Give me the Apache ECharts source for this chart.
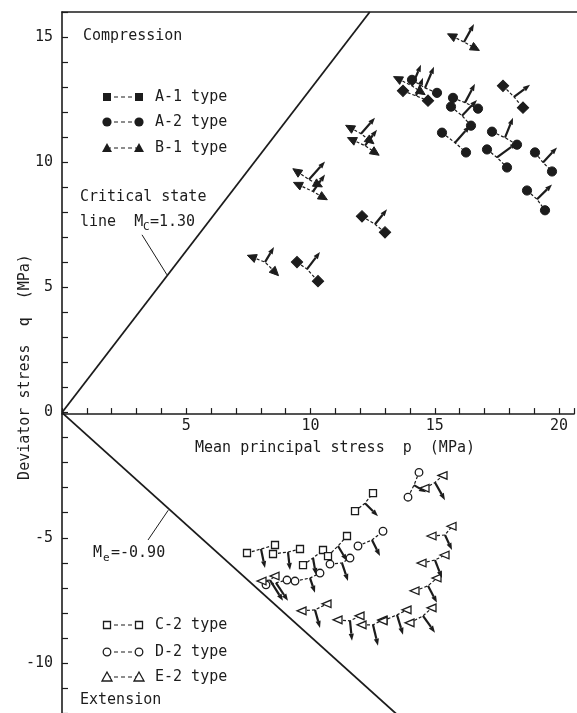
<!DOCTYPE html>
<html><head><meta charset="utf-8">
<script src="https://cdn.jsdelivr.net/npm/echarts@6/dist/echarts.min.js"></script>
<style>html,body{margin:0;padding:0;background:#fff;}#c{width:577px;height:713px;}</style>
</head><body><div id="c"></div>
<script>
// ---- axis ticks / labels ----
const xLabelValues = [5, 10, 15, 20];
const yLabelValues = [-10, -5, 0, 5, 10, 15];

// ---- state lines (p, q) ----
const criticalStateLine = [[0, 0], [12.31, 16]];   // Mc = 1.30
const extensionLine = [[0, 0], [13.4, -12.06]];     // Me = -0.90
const mcLeader = [[3.2, 7.1], [4.2, 5.5]];
const meLeader = [[3.44, -5.09], [4.25, -3.9]];

// ---- test glyphs: [Lp, Lq, Rp, Rq, Sp, Sq, Ep, Eq]
// L/R = the two markers, S = start of strain-increment arrow, E = arrow tip
const a1Type = [
  [13.64, 12.85, 14.64, 12.46, 14.16, 12.65, 14.44, 13.37],
  [17.64, 13.05, 18.44, 12.18, 18.08, 12.61, 18.72, 13.09],
  [12.00, 7.84, 12.92, 7.20, 12.52, 7.52, 13.00, 8.12],
  [9.40, 6.01, 10.24, 5.25, 9.80, 5.73, 10.32, 6.41]
];
const a2Type = [
  [14.00, 13.29, 15.00, 12.77, 14.52, 12.97, 14.88, 13.81],
  [15.64, 12.57, 16.64, 12.14, 16.12, 12.38, 16.52, 13.13],
  [15.56, 12.22, 16.36, 11.46, 16.00, 11.86, 16.60, 12.49],
  [15.20, 11.18, 16.16, 10.39, 15.72, 10.78, 16.32, 11.46],
  [17.20, 11.22, 18.20, 10.70, 17.72, 10.98, 18.04, 11.78],
  [17.00, 10.51, 17.80, 9.79, 17.40, 10.19, 18.20, 10.78],
  [18.92, 10.39, 19.60, 9.63, 19.24, 9.99, 19.80, 10.59],
  [18.60, 8.87, 19.32, 8.08, 19.00, 8.52, 19.60, 9.11]
];
const b1Type = [
  [15.60, 15.04, 16.52, 14.56, 16.08, 14.80, 16.48, 15.52],
  [13.44, 13.33, 14.36, 12.81, 14.00, 13.05, 14.36, 13.89],
  [11.52, 11.38, 12.32, 10.86, 11.96, 11.14, 12.52, 11.78],
  [11.60, 10.90, 12.52, 10.39, 12.12, 10.66, 12.60, 11.30],
  [9.40, 9.63, 10.24, 9.11, 9.88, 9.31, 10.52, 10.03],
  [9.44, 9.11, 10.44, 8.60, 10.04, 8.83, 10.52, 9.51],
  [7.60, 6.21, 8.52, 5.61, 8.12, 6.01, 8.48, 6.61]
];
const c2Type = [
  [7.40, -5.61, 8.52, -5.29, 7.96, -5.45, 8.12, -6.21],
  [8.44, -5.65, 9.52, -5.45, 9.04, -5.57, 9.12, -6.29],
  [9.64, -6.09, 10.44, -5.49, 10.04, -5.81, 10.16, -6.49],
  [10.64, -5.73, 11.40, -4.93, 11.04, -5.33, 11.40, -5.93],
  [11.72, -3.94, 12.44, -3.22, 12.12, -3.62, 12.64, -4.14]
];
const d2Type = [
  [8.16, -6.88, 9.00, -6.69, 8.56, -6.80, 9.04, -7.52],
  [9.32, -6.73, 10.32, -6.41, 9.92, -6.61, 10.12, -7.20],
  [10.72, -6.05, 11.52, -5.81, 11.20, -6.01, 11.44, -6.73],
  [11.84, -5.33, 12.84, -4.74, 12.40, -5.09, 12.72, -5.73],
  [13.84, -3.38, 14.28, -2.39, 14.08, -2.90, 14.56, -3.18]
];
const e2Type = [
  [8.00, -6.73, 8.52, -6.53, 8.32, -6.69, 8.84, -7.52],
  [9.60, -7.92, 10.60, -7.64, 10.12, -7.88, 10.32, -8.60],
  [11.04, -8.28, 11.92, -8.12, 11.52, -8.32, 11.60, -9.11],
  [12.00, -8.48, 12.84, -8.28, 12.44, -8.48, 12.64, -9.31],
  [12.84, -8.32, 13.80, -7.88, 13.40, -8.08, 13.64, -8.87],
  [13.92, -8.40, 14.80, -7.80, 14.44, -8.12, 14.92, -8.79],
  [14.12, -7.12, 15.00, -6.61, 14.64, -6.92, 15.00, -7.60],
  [14.40, -6.01, 15.32, -5.69, 14.92, -5.89, 15.20, -6.61],
  [14.80, -4.93, 15.60, -4.54, 15.32, -4.89, 15.60, -5.49],
  [14.52, -3.02, 15.24, -2.51, 14.92, -2.79, 15.32, -3.50]
];

// ---- styles ----
const INK = '#1c1c1c';
const FONT = '"DejaVu Sans Mono", "Liberation Mono", monospace';

function markerShape(P, S, shape, filled, fixedDir) {
  const style = filled ? { fill: INK, stroke: INK, lineWidth: 1 } : { fill: '#fff', stroke: INK, lineWidth: 1.3 };
  if (shape === 'square') {
    const s = filled ? 8 : 7;
    return { type: 'rect', x: P[0], y: P[1], rotation: filled ? Math.PI / 4 : 0,
      shape: { x: -s / 2, y: -s / 2, width: s, height: s }, style };
  }
  if (shape === 'circle') {
    return { type: 'circle', shape: { cx: P[0], cy: P[1], r: filled ? 4.6 : 3.8 }, style };
  }
  let ux, uy;
  if (fixedDir) { ux = fixedDir[0]; uy = fixedDir[1]; }
  else {
    const dx = P[0] - S[0], dy = P[1] - S[1];
    const l = Math.hypot(dx, dy) || 1; ux = dx / l; uy = dy / l;
  }
  const tip = [P[0] + ux * 5, P[1] + uy * 5];
  const b = [P[0] - ux * 4, P[1] - uy * 4];
  const hw = filled ? 4.2 : 3.8;
  return { type: 'polygon', shape: { points: [tip, [b[0] - uy * hw, b[1] + ux * hw], [b[0] + uy * hw, b[1] - ux * hw]] }, style };
}

function glyphSeries(name, data, shape, filled, fixedDir) {
  return {
    type: 'custom', name, data, coordinateSystem: 'cartesian2d', xAxisIndex: 0, yAxisIndex: 0,
    silent: true, z: 5,
    encode: { x: [0, 2, 4, 6], y: [1, 3, 5, 7] },
    renderItem(params, api) {
      const L = api.coord([api.value(0), api.value(1)]);
      const R = api.coord([api.value(2), api.value(3)]);
      const S = api.coord([api.value(4), api.value(5)]);
      const E = api.coord([api.value(6), api.value(7)]);
      const ch = [];
      ch.push({ type: 'polyline', shape: { points: [L, S, R] },
        style: { stroke: INK, lineWidth: 1.2, lineDash: [3, 2], fill: null } });
      const dx = E[0] - S[0], dy = E[1] - S[1];
      const len = Math.hypot(dx, dy) || 1, ux = dx / len, uy = dy / len;
      const hl = 7, hw = 2.6;
      const B = [E[0] - ux * hl, E[1] - uy * hl];
      ch.push({ type: 'line', shape: { x1: S[0], y1: S[1], x2: B[0], y2: B[1] }, style: { stroke: INK, lineWidth: 2.2 } });
      ch.push({ type: 'polygon', shape: { points: [E, [B[0] - uy * hw, B[1] + ux * hw], [B[0] + uy * hw, B[1] - ux * hw]] }, style: { fill: INK } });
      ch.push(markerShape(L, S, shape, filled, fixedDir));
      ch.push(markerShape(R, S, shape, filled, fixedDir));
      return { type: 'group', children: ch };
    }
  };
}

function txt(x, y, text, size, extra) {
  return Object.assign({ type: 'text', x, y, silent: true,
    style: { text, fill: INK, font: (size || 15) + 'px ' + FONT, textAlign: 'left', textVerticalAlign: 'middle' } }, extra || {});
}

function legendItem(y, shape, filled) {
  const x1 = 107, x2 = 139;
  const items = [{ type: 'line', shape: { x1, y1: y, x2, y2: y }, style: { stroke: INK, lineWidth: 1.2, lineDash: [4, 3] } }];
  [x1, x2].forEach(x => {
    if (shape === 'square') {
      const s = filled ? 8 : 7;
      items.push({ type: 'rect', shape: { x: x - s / 2, y: y - s / 2, width: s, height: s },
        style: filled ? { fill: INK } : { fill: '#fff', stroke: INK, lineWidth: 1.3 } });
    } else if (shape === 'circle') {
      items.push({ type: 'circle', shape: { cx: x, cy: y, r: filled ? 4.6 : 3.8 },
        style: filled ? { fill: INK } : { fill: '#fff', stroke: INK, lineWidth: 1.3 } });
    } else {
      items.push({ type: 'polygon', shape: { points: [[x, y - 5], [x - 5, y + 4], [x + 5, y + 4]] },
        style: filled ? { fill: INK } : { fill: '#fff', stroke: INK, lineWidth: 1.3 } });
    }
  });
  return items;
}

const chart = echarts.init(document.getElementById('c'), null, { renderer: 'canvas' });

const lineStyleBase = { color: INK, width: 1.8 };
const Y_MIN = -12, Y_MAX = 16, PX_PER_Q = 25.13;
const GRID_TOP = 12;

const option = {
  animation: false,
  backgroundColor: '#fff',
  grid: [
    // main data grid
    { left: 62, top: GRID_TOP, width: 515, height: (Y_MAX - Y_MIN) * PX_PER_Q, containLabel: false },
    // upper half grid: its bottom edge is q = 0, carries the p axis
    { left: 62, top: GRID_TOP, width: 515, height: Y_MAX * PX_PER_Q, containLabel: false }
  ],
  xAxis: [{
    gridIndex: 0, type: 'value', position: 'top', min: 0, max: 20.6,
    axisLine: { onZero: false, lineStyle: { color: INK, width: 1.6 } },
    axisTick: { show: false }, axisLabel: { show: false }, splitLine: { show: false }
  }, {
    gridIndex: 1, type: 'value', position: 'bottom', min: 0, max: 20.6, interval: 1,
    axisLine: { onZero: false, lineStyle: { color: INK, width: 1.6 } },
    axisTick: { inside: true, length: 6, lineStyle: { color: INK, width: 1.2 } },
    axisLabel: { margin: 5, color: INK, fontSize: 15, fontFamily: FONT,
      formatter: v => (xLabelValues.indexOf(v) >= 0 ? String(v) : '') },
    splitLine: { show: false }
  }],
  yAxis: [{
    gridIndex: 0, type: 'value', min: Y_MIN, max: Y_MAX, interval: 1,
    axisLine: { onZero: false, lineStyle: { color: INK, width: 1.6 } },
    axisTick: { inside: true, length: 6, lineStyle: { color: INK, width: 1.2 } },
    axisLabel: { margin: 9, color: INK, fontSize: 15, fontFamily: FONT,
      formatter: v => (yLabelValues.indexOf(v) >= 0 ? String(v) : '') },
    splitLine: { show: false }
  }, {
    gridIndex: 1, type: 'value', min: 0, max: Y_MAX, show: false
  }],
  series: [
    { type: 'line', xAxisIndex: 0, yAxisIndex: 0, data: criticalStateLine, symbol: 'none', lineStyle: lineStyleBase, silent: true, clip: true },
    { type: 'line', xAxisIndex: 0, yAxisIndex: 0, data: extensionLine, symbol: 'none', lineStyle: lineStyleBase, silent: true, clip: true },
    { type: 'line', xAxisIndex: 0, yAxisIndex: 0, data: mcLeader, symbol: 'none', lineStyle: { color: INK, width: 1 }, silent: true },
    { type: 'line', xAxisIndex: 0, yAxisIndex: 0, data: meLeader, symbol: 'none', lineStyle: { color: INK, width: 1 }, silent: true },
    glyphSeries('A-1 type', a1Type, 'square', true),
    glyphSeries('A-2 type', a2Type, 'circle', true),
    glyphSeries('B-1 type', b1Type, 'triangle', true),
    glyphSeries('C-2 type', c2Type, 'square', false),
    glyphSeries('D-2 type', d2Type, 'circle', false),
    glyphSeries('E-2 type', e2Type, 'triangle', false, [-1, 0])
  ],
  graphic: [
    txt(83, 36, 'Compression'),
    txt(80, 197, 'Critical state'),
    txt(80, 222, 'line  M'),
    txt(143, 227, 'C', 11),
    txt(150, 222, '=1.30'),
    txt(93, 553, 'M'),
    txt(103, 558, 'e', 11),
    txt(111, 553, '=-0.90'),
    txt(80, 700, 'Extension'),
    txt(155, 97, 'A-1 type'),
    txt(155, 122, 'A-2 type'),
    txt(155, 148, 'B-1 type'),
    txt(155, 625, 'C-2 type'),
    txt(155, 652, 'D-2 type'),
    txt(155, 677, 'E-2 type'),
    ...legendItem(97, 'square', true),
    ...legendItem(122, 'circle', true),
    ...legendItem(148, 'triangle', true),
    ...legendItem(625, 'square', false),
    ...legendItem(652, 'circle', false),
    ...legendItem(677, 'triangle', false),
    { type: 'text', x: 335, y: 448, silent: true,
      style: { text: 'Mean principal stress  p  (MPa)', fill: INK, font: '15px ' + FONT, textAlign: 'center', textVerticalAlign: 'middle' } },
    { type: 'text', x: 25, y: 367, rotation: Math.PI / 2, silent: true,
      style: { text: 'Deviator stress  q  (MPa)', fill: INK, font: '15px ' + FONT, textAlign: 'center', textVerticalAlign: 'middle' } }
  ]
};
chart.setOption(option);
</script>
</body></html>
